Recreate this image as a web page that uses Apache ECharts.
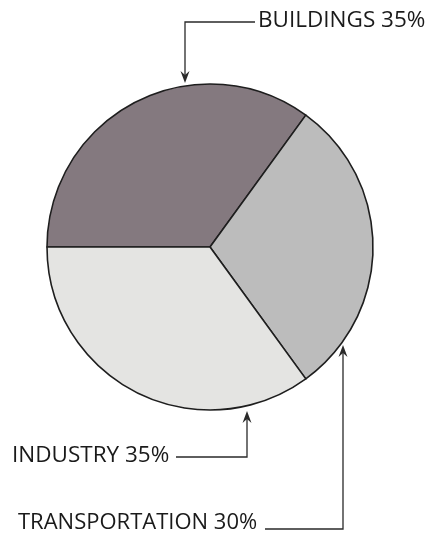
<!DOCTYPE html>
<html>
<head>
<meta charset="utf-8">
<script src="https://cdn.jsdelivr.net/npm/echarts@6/dist/echarts.min.js"></script>
<style>html,body{margin:0;padding:0;background:#fff;}#c{width:432px;height:542px;}</style>
</head>
<body>
<div id="c"></div>
<script>
const categories = ['Buildings', 'Transportation', 'Industry'];
const values = [35, 30, 35];
const colors = ['#84797f', '#bcbcbc', '#e4e4e2'];

const chart = echarts.init(document.getElementById('c'), null, {renderer: 'canvas'});
const labelOf = i => categories[i].toUpperCase() + ' ' + values[i] + '%';
const font = '"Open Sans", sans-serif';
const lc = '#2a2a2a';

function arrowHead(x, y, dir) { // dir: 1 pointing down, -1 pointing up
  return {type: 'polygon', shape: {points: [[x, y], [x - 4.5, y - dir * 12], [x, y - dir * 8], [x + 4.5, y - dir * 12]]}, style: {fill: lc}};
}

chart.setOption({
  animation: false,
  backgroundColor: '#fff',
  series: [{
    type: 'pie',
    center: [210, 247],
    radius: 163,
    startAngle: 180,
    clockwise: true,
    silent: true,
    label: {show: false},
    labelLine: {show: false},
    itemStyle: {borderColor: '#1e1e1e', borderWidth: 1.6},
    data: categories.map((c, i) => ({name: c, value: values[i], itemStyle: {color: colors[i]}}))
  }],
  graphic: [
    {type: 'polyline', shape: {points: [[255, 22], [185, 22], [185, 76]]}, style: {stroke: lc, lineWidth: 1.3, fill: null}},
    arrowHead(185, 83, 1),
    {type: 'text', x: 258, y: 21, style: {text: labelOf(0), font: '22.5px ' + font, fill: '#1a1a1a', textVerticalAlign: 'middle'}},

    {type: 'polyline', shape: {points: [[176, 457], [247, 457], [247, 418]]}, style: {stroke: lc, lineWidth: 1.3, fill: null}},
    arrowHead(247, 411, -1),
    {type: 'text', x: 12, y: 456, style: {text: labelOf(2), font: '22.5px ' + font, fill: '#1a1a1a', textVerticalAlign: 'middle'}},

    {type: 'polyline', shape: {points: [[265, 529], [343, 529], [343, 352]]}, style: {stroke: lc, lineWidth: 1.3, fill: null}},
    arrowHead(343, 345, -1),
    {type: 'text', x: 18, y: 523, style: {text: labelOf(1), font: '22px ' + font, fill: '#1a1a1a', textVerticalAlign: 'middle'}}
  ]
});
</script>
</body>
</html>
